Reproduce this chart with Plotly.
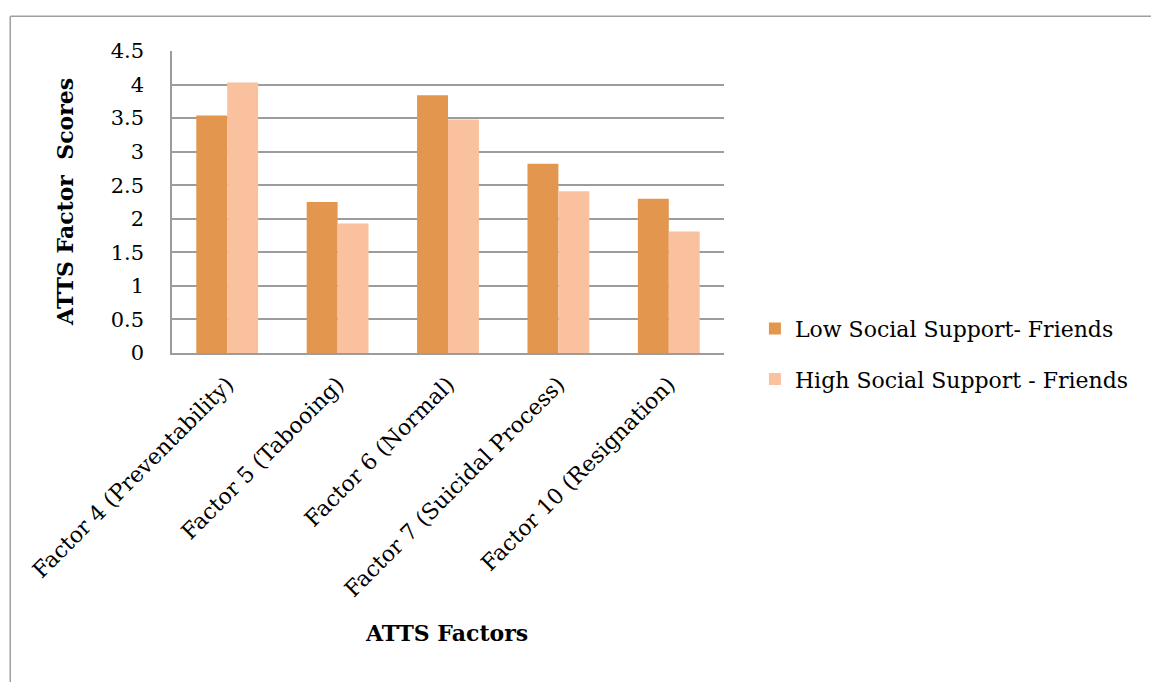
import plotly.graph_objects as go

# ATTS factor scores by level of social support from friends
categories = [
    "Factor 4 (Preventability)",
    "Factor 5 (Tabooing)",
    "Factor 6 (Normal)",
    "Factor 7 (Suicidal Process)",
    "Factor 10 (Resignation)",
]
low_support = [3.54, 2.25, 3.84, 2.82, 2.30]
high_support = [4.03, 1.93, 3.48, 2.41, 1.81]

series_names = ["Low Social Support- Friends", "High Social Support - Friends"]
y_ticks = [0, 0.5, 1, 1.5, 2, 2.5, 3, 3.5, 4, 4.5]
y_tick_text = ["0", "0.5", "1", "1.5", "2", "2.5", "3", "3.5", "4", "4.5"]

FONT = "DejaVu Serif"
GRID = "#9c9c9c"

fig = go.Figure()
fig.add_trace(go.Bar(
    x=categories, y=low_support, name=series_names[0],
    marker=dict(color="#E3964E", line=dict(width=0)),
    legendgroup="low",
))
fig.add_trace(go.Bar(
    x=categories, y=high_support, name=series_names[1],
    marker=dict(color="#FAC19F", line=dict(width=0)),
    legendgroup="high",
))

fig.update_layout(
    width=1151, height=682,
    margin=dict(l=172, r=427, t=51, b=329, autoexpand=False),
    paper_bgcolor="white", plot_bgcolor="white",
    font=dict(family=FONT, size=22, color="black"),
    barmode="group", bargap=0.44, bargroupgap=0,
    showlegend=True,
    legend=dict(
        x=1.056, xanchor="left", y=0.15, yanchor="top",
        font=dict(family=FONT, size=22, color="black"),
        traceorder="grouped", tracegroupgap=19,
        itemwidth=30, bgcolor="rgba(0,0,0,0)",
    ),
    xaxis=dict(
        tickangle=-45, showgrid=False,
        showline=True, linecolor=GRID, linewidth=1.5,
        ticks="", ticklabelstandoff=8,
        tickfont=dict(family=FONT, size=22),
    ),
    yaxis=dict(
        range=[0, 4.5], tickvals=y_ticks, ticktext=y_tick_text,
        showgrid=True, gridcolor=GRID, gridwidth=1.5,
        showline=True, linecolor=GRID, linewidth=1.5,
        zeroline=False, ticks="", ticklabelstandoff=22,
        tickfont=dict(family=FONT, size=21),
    ),
)

# axis titles
fig.add_annotation(text="<b>ATTS Factors</b>", xref="paper", yref="paper",
                   x=0.498, y=-0.928, showarrow=False,
                   font=dict(family=FONT, size=22), xanchor="center", yanchor="middle")
fig.add_annotation(text="<b>ATTS Factor  Scores</b>", xref="paper", yref="paper",
                   x=-0.194, y=0.5, showarrow=False, textangle=-90,
                   font=dict(family=FONT, size=22), xanchor="center", yanchor="middle")

# outer chart frame (left and top edges visible)
fig.add_shape(type="line", xref="paper", yref="paper",
              x0=-0.293, x1=-0.293, y0=1.115, y1=-1.3,
              line=dict(color="#a0a0a0", width=1.5))
fig.add_shape(type="line", xref="paper", yref="paper",
              x0=-0.293, x1=1.8, y0=1.115, y1=1.115,
              line=dict(color="#a0a0a0", width=1.5))

fig.write_html("out.html")
